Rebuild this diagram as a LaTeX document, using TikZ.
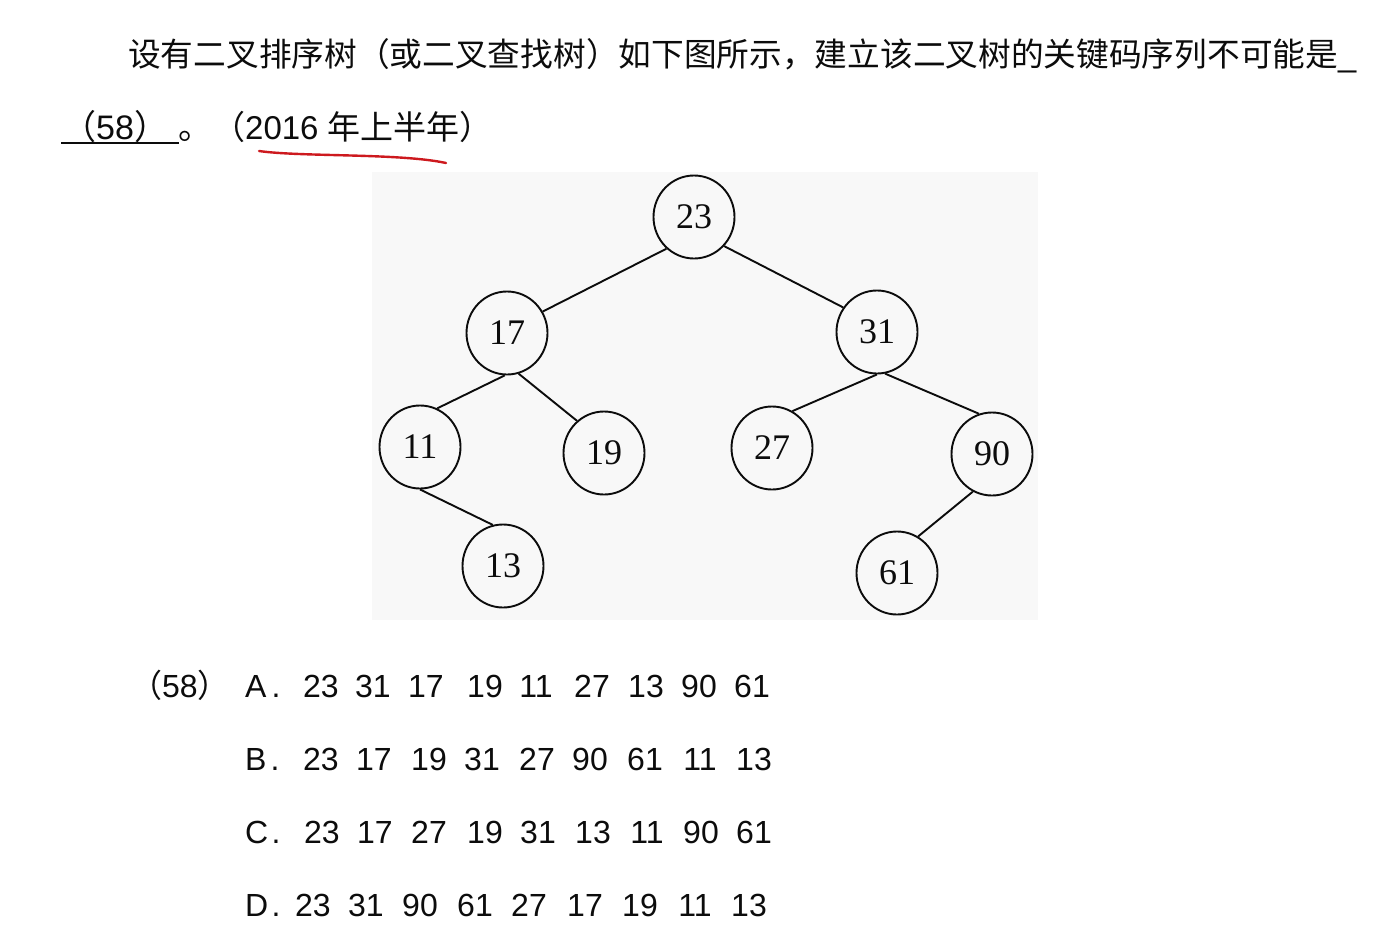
\documentclass[tikz,border=0pt]{standalone}
\usepackage{fontspec}
\setmainfont{Liberation Sans}
\newfontfamily\cjk{Noto Sans CJK SC}
\newfontfamily\tnr{Liberation Serif}
\usetikzlibrary{shapes.geometric}
\definecolor{treebg}{RGB}{248,248,248}
\definecolor{pen}{RGB}{12,12,12}
\definecolor{redpen}{RGB}{205,25,30}
\begin{document}
\begin{tikzpicture}[x=1pt,y=-1pt,
  tn/.style={ellipse,draw=pen,line width=1.9pt,minimum width=81pt,minimum height=83pt,inner sep=0pt,font=\tnr\fontsize{36}{36}\selectfont,text=pen},
  edge/.style={draw=pen,line width=1.9pt},
  qtext/.style={inner sep=0pt,anchor=base west,text=pen,font=\fontsize{32.7}{40}\selectfont},
  opt/.style={inner sep=0pt,anchor=base,text=pen,font=\fontsize{32}{36}\selectfont},
  lab/.style={inner sep=0pt,anchor=base west,text=pen,font=\fontsize{32}{36}\selectfont}]
\useasboundingbox (0,0) rectangle (1400,937);
\fill[white] (0,0) rectangle (1400,937);

% question text
\node[qtext] (q1) at (128,66) {{\cjk 设有二叉排序树（或二叉查找树）如下图所示，建立该二叉树的关键码序列不可能是}\_};
\coordinate (ul1) at (61,143);
\coordinate (ul2) at (179,143);
\draw[pen,line width=2pt] (ul1) -- (ul2);
\node[qtext,font=\fontsize{34}{40}\selectfont] (blank) at (62,139) {{\cjk （}58{\cjk ）}};
\node[qtext,font=\fontsize{34}{40}\selectfont] (stop) at (178,139) {\cjk 。};
\node[qtext,font=\fontsize{33}{40}\selectfont] (year) at (212,139) {{\cjk （}2016 {\cjk 年上半年）}};
\coordinate (r1) at (259,151);
\coordinate (r2) at (446,163);
\draw[redpen,line width=2.4pt,line cap=round] (r1) .. controls (300,157) and (400,153) .. (r2);

% tree background
\fill[treebg] (372,172) rectangle (1038,620);

% tree nodes
\node[tn] (t23) at (694,217) {23};
\node[tn] (t17) at (507,333) {17};
\node[tn] (t31) at (877,332) {31};
\node[tn] (t11) at (420,447) {11};
\node[tn] (t19) at (604,453) {19};
\node[tn] (t27) at (772,448) {27};
\node[tn] (t90) at (992,454) {90};
\node[tn] (t13) at (503,566) {13};
\node[tn] (t61) at (897,573) {61};

% tree edges
\draw[edge] (t23.229) -- (t17.31);
\draw[edge] (t23.316) -- (t31.144);
\draw[edge] (t17.267) -- (t11.66);
\draw[edge] (t17.286) -- (t19.130);
\draw[edge] (t11.270) -- (t13.104);
\draw[edge] (t31.270) -- (t27.61);
\draw[edge] (t31.281) -- (t90.108);
\draw[edge] (t90.243) -- (t61.60);

% options
\node[lab] (q58) at (130,697) {{\cjk （}58{\cjk ）}};
\foreach \r/\yy/\dx/\lst in {
  A/697/276/{321/23,373/31,426/17,485/19,536/11,592/27,646/13,699/90,752/61},
  B/770/275/{321/23,374/17,429/19,482/31,537/27,590/90,645/61,700/11,754/13},
  C/843/276/{322/23,375/17,429/27,485/19,538/31,593/13,647/11,701/90,754/61},
  D/916/276/{313/23,366/31,420/90,475/61,529/27,585/17,640/19,695/11,749/13}}{
  \node[lab] (l\r) at (245,\yy) {\r};
  \node[opt] (p\r) at (\dx,\yy) {.};
  \foreach \xx/\v [count=\i] in \lst {
    \node[opt] (\r\i) at (\xx,\yy) {\v};
  }
}
\end{tikzpicture}
\end{document}
